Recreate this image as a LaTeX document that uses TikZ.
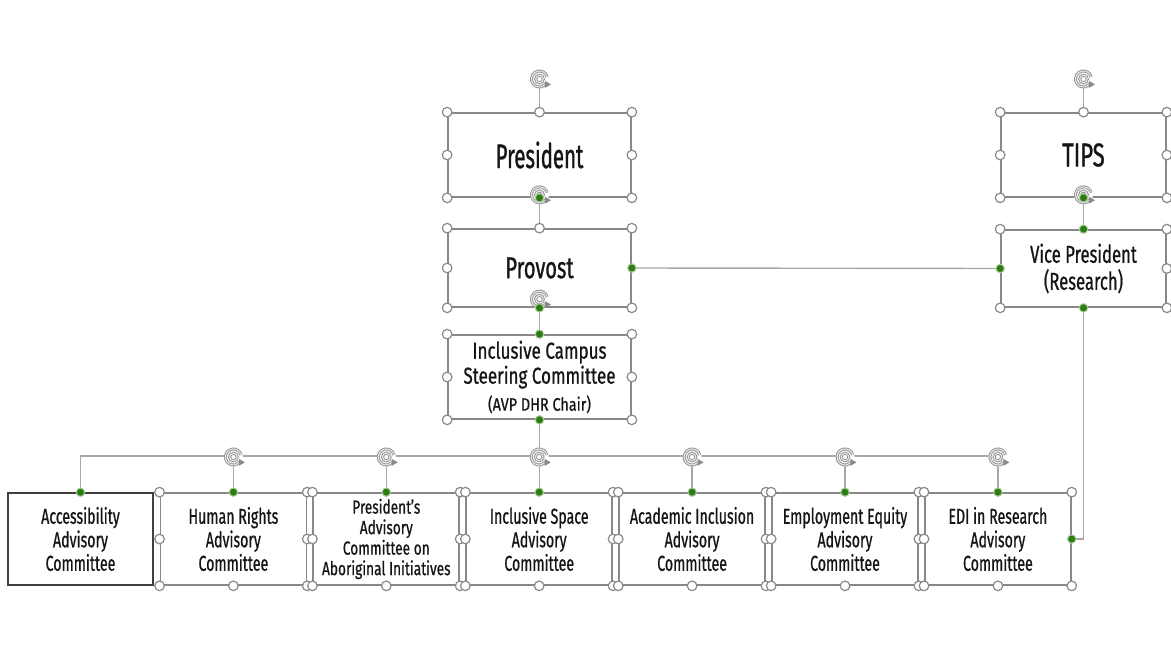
\documentclass[tikz,border=0pt]{standalone}
\usepackage{fontspec}
\setmainfont{Fira Sans}[FakeStretch=0.66, FakeBold=0.7]
\newfontfamily\fA{Fira Sans}[FakeStretch=0.60, FakeBold=0.9]
\newfontfamily\fB{Fira Sans}[FakeStretch=0.67, FakeBold=0.9]
\newfontfamily\fC{Fira Sans}[FakeStretch=0.68, FakeBold=0.8]
\newfontfamily\fD{Fira Sans}[FakeStretch=0.74, FakeBold=0.8]
\newfontfamily\fE{Fira Sans}[FakeStretch=0.80, FakeBold=0.7]
\newfontfamily\fF{Fira Sans}[FakeStretch=0.72, FakeBold=0.7]
\usetikzlibrary{arrows.meta,calc}
\definecolor{edge}{HTML}{888888}
\definecolor{conn}{HTML}{A8A8A8}
\definecolor{hdlc}{HTML}{8A8A8A}
\definecolor{gdot}{HTML}{2E7D12}
\definecolor{txt}{HTML}{151515}
\newcommand\rothandle[1]{%
  \fill[white] (#1) circle[radius=9.5pt];
  \draw[rotst] ($(#1)+(15:8pt)$) arc[start angle=15, end angle=318, radius=8pt];
  \fill[hdlc] ($(#1)+(318:8pt)+(5.5pt,0)$) -- ++(-6pt,3.5pt) -- ++(0,-7pt) -- cycle;
  \draw[rotst] (#1) circle[radius=3.8pt];}
\newcommand\hdls[2]{\foreach \a in {#2} {\draw[hdl] (#1.\a) circle[radius=4.8pt];}}
\newcommand\gdots[2]{\foreach \a in {#2} {\draw[gd] (#1.\a) circle[radius=4.2pt];}}
\begin{document}
\begin{tikzpicture}[x=1pt,y=-1pt,
  box/.style={draw=edge, line width=1.7pt, fill=white, inner sep=0pt, align=center, text=txt},
  big/.style={box, minimum width=183pt, minimum height=84pt},
  right/.style={box, minimum width=165pt, minimum height=84pt},
  low/.style={box, minimum width=146pt, minimum height=92pt, font=\fontsize{21.5}{23.5}\selectfont},
  wire/.style={draw=conn, line width=1.4pt},
  hdl/.style={draw=hdlc, fill=white, line width=1.2pt},
  gd/.style={fill=gdot, draw=gdot!40!white, line width=1pt},
  rotst/.style={draw=hdlc!90, double=white!92!black, double distance=1pt, line width=1pt}
]
\useasboundingbox[fill=white] (0,0) rectangle (1171,647);

% top boxes
\node[big, font=\fA\fontsize{34}{36}\selectfont] (pres) at (539.5,155) {President};
\node[big, minimum height=78pt, font=\fB\fontsize{30}{32}\selectfont] (prov) at (539.5,268) {Provost};
\node[big, font=\fD\fontsize{23}{25}\selectfont] (ics) at (539.5,377) {Inclusive Campus\\Steering Committee\\[2pt]{\fE\fontsize{18}{20}\selectfont (AVP DHR Chair)}};
\node[right, font=\fB\fontsize{33}{36}\selectfont] (tips) at (1083.5,155) {TIPS};
\node[right, minimum height=77pt, font=\fC\fontsize{24.5}{27}\selectfont] (vp) at (1083.5,268.5) {Vice President\\(Research)};

% bottom row
\node[low, draw=black!75, line width=1.4pt, minimum width=145pt] (acc) at (80.5,539) {Accessibility\\Advisory\\Committee};
\node[low] (hr) at (233.4,539) {Human Rights\\Advisory\\Committee};
\node[low, font=\fF\fontsize{19}{20.5}\selectfont] (paa) at (386.3,539) {President’s\\Advisory\\Committee on\\Aboriginal Initiatives};
\node[low] (isp) at (539.2,539) {Inclusive Space\\Advisory\\Committee};
\node[low] (aca) at (692.1,539) {Academic Inclusion\\Advisory\\Committee};
\node[low] (emp) at (845,539) {Employment Equity\\Advisory\\Committee};
\node[low] (edi) at (997.9,539) {EDI in Research\\Advisory\\Committee};

% connectors
\coordinate (busL) at (80.5,456);
\coordinate (busR) at (997.9,456);
\coordinate (presrot) at (539.5,79);
\coordinate (tipsrot) at (1083.5,79);
\path[wire] (pres.south) -- (prov.north);
\path[wire] (prov.south) -- (ics.north);
\path[wire] (prov.east) -- (vp.west);
\path[wire] (tips.south) -- (vp.north);
\path[wire] (vp.south) |- (edi.east);
\path[wire] (ics.south) -- (ics.south |- busL);
\path[wire] (acc.north) |- (busR);
\foreach \b in {hr,paa,isp,aca,emp,edi} {\path[wire] (\b.north) -- (\b.north |- busL);}
\path[wire] (pres.north) -- (presrot);
\path[wire] (tips.north) -- (tipsrot);

% selection handles
\hdls{pres}{north west,north,north east,west,east,south west,south east}
\hdls{prov}{north west,north,north east,west,south west,south east}
\hdls{ics}{north west,north east,west,east,south west,south east}
\hdls{tips}{north west,north,north east,west,east,south west,south east}
\hdls{vp}{north west,north east,east,south west,south east}
\foreach \b in {hr,paa,isp,aca,emp} {\hdls{\b}{north west,north east,west,east,south west,south,south east}}
\hdls{edi}{north west,north east,west,south west,south,south east}

% rotation handles
\rothandle{presrot}
\rothandle{tipsrot}
\rothandle{$(pres.south)+(0,-3)$}
\rothandle{$(tips.south)+(0,-3)$}
\rothandle{$(ics.north)+(0,-35)$}
\foreach \b in {hr,paa,isp,aca,emp,edi} {\rothandle{$(\b.north |- busL)+(0,1)$}}

% connection points
\gdots{pres}{south}
\gdots{prov}{east,south}
\gdots{ics}{north,south}
\gdots{tips}{south}
\gdots{vp}{north,west,south}
\foreach \b in {acc,hr,paa,isp,aca,emp,edi} {\gdots{\b}{north}}
\gdots{edi}{east}
\end{tikzpicture}
\end{document}
